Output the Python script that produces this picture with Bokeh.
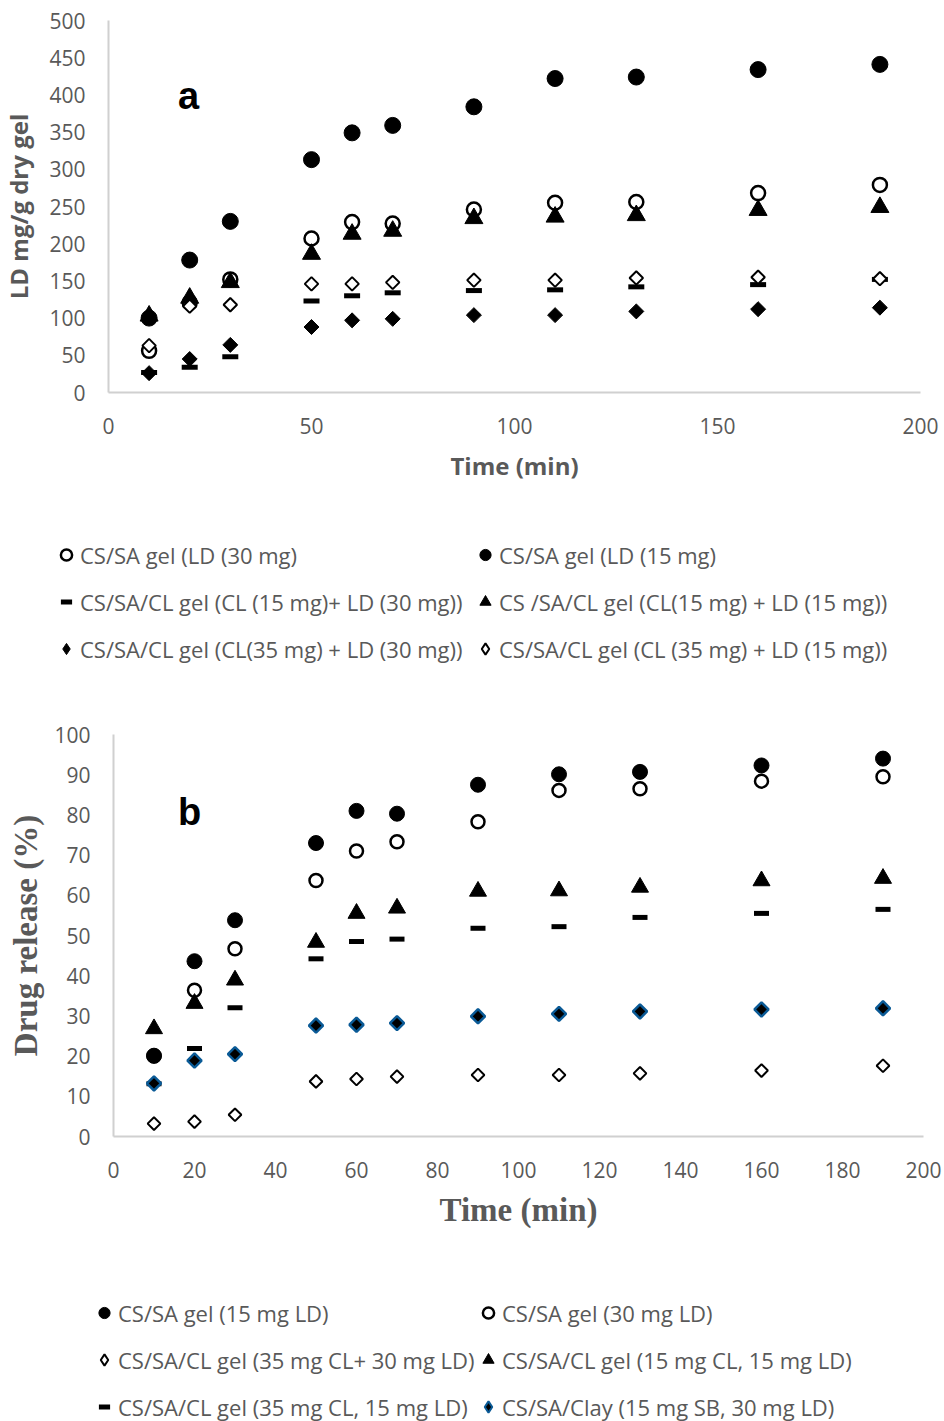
import numpy as np
from bokeh.plotting import figure
from bokeh.layouts import column
from bokeh.models import Range1d, Legend, LegendItem, Label, FixedTicker
from bokeh.embed import file_html
from bokeh.resources import INLINE

# ---------------- data ----------------
time_min = [10, 20, 30, 50, 60, 70, 90, 110, 130, 160, 190]

# panel a : LD mg/g dry gel
a_names = [
    "CS/SA gel (LD (30 mg)",
    "CS/SA gel (LD (15 mg)",
    "CS/SA/CL gel (CL (15 mg)+ LD (30 mg))",
    "CS /SA/CL gel (CL(15 mg) + LD (15 mg))",
    "CS/SA/CL gel (CL(35 mg) + LD (30 mg))",
    "CS/SA/CL gel (CL (35 mg) + LD (15 mg))",
]
a_ld30 = [56, 121, 152, 207, 229, 227, 246, 255, 256, 268, 279]
a_ld15 = [100, 178, 230, 313, 349, 359, 384, 422, 424, 434, 441]
a_cl15_ld30 = [27, 34, 48, 123, 130, 134, 137, 138, 142, 145, 152]
a_cl15_ld15 = [103, 127, 148, 186, 213, 217, 234, 236, 238, 245, 249]
a_cl35_ld30 = [26, 45, 64, 88, 97, 99, 104, 104, 109, 112, 114]
a_cl35_ld15 = [63, 116, 118, 146, 146, 148, 151, 151, 154, 155, 153]

# panel b : drug release (%)
b_names = [
    "CS/SA gel (15 mg LD)",
    "CS/SA gel (30 mg LD)",
    "CS/SA/CL gel (35 mg CL+ 30 mg LD)",
    "CS/SA/CL gel (15 mg CL, 15 mg LD)",
    "CS/SA/CL gel (35 mg CL, 15 mg LD)",
    "CS/SA/Clay (15 mg SB, 30 mg LD)",
]
b_ld15 = [20.1, 43.6, 53.8, 73.0, 81.0, 80.3, 87.5, 90.1, 90.7, 92.3, 94.0]
b_ld30 = [20.0, 36.4, 46.7, 63.7, 71.0, 73.3, 78.3, 86.1, 86.5, 88.4, 89.5]
b_cl35_ld30 = [3.2, 3.7, 5.4, 13.7, 14.3, 14.9, 15.3, 15.3, 15.7, 16.4, 17.6]
b_cl15_ld15 = [26.8, 33.1, 38.9, 48.3, 55.5, 56.8, 61.0, 61.1, 62.0, 63.6, 64.2]
b_cl35_ld15 = [13.1, 21.9, 32.0, 44.2, 48.5, 49.1, 51.8, 52.2, 54.5, 55.5, 56.5]
b_clay = [13.2, 18.9, 20.5, 27.6, 27.8, 28.2, 29.9, 30.5, 31.1, 31.6, 31.9]

a_yticks = list(range(0, 501, 50))
a_xticks = list(range(0, 201, 50))
b_yticks = list(range(0, 101, 10))
b_xticks = list(range(0, 201, 20))

# ---------------- styles ----------------
GRAY = "#595959"
AXIS = "#d0d0d0"
SANS = "Open Sans"
SERIF = "Liberation Serif"
BLUE = "#0a5a96"
D45 = np.pi / 4
W = 944

MK = {
    "fcircle": dict(marker="circle", fill_color="black", line_color="black", line_width=1),
    "ocircle": dict(marker="circle", fill_color="white", line_color="black", line_width=2.5),
    "dash": dict(marker="dash", fill_color="black", line_color="black", line_width=5),
    "tri": dict(marker="triangle", fill_color="black", line_color="black", line_width=1),
    "fdia": dict(marker="square", angle=D45, fill_color="black", line_color="black", line_width=1),
    "odia": dict(marker="square", angle=D45, fill_color="white", line_color="black", line_width=2),
    "bdia": dict(marker="square", angle=D45, fill_color="black", line_color=BLUE, line_width=2.5),
}
# legend swatches: Bokeh legends ignore marker angle, so diamond series get a
# same-data "diamond" glyph drawn underneath (hidden by the rotated square)
LEG = {
    "fdia": dict(marker="diamond", fill_color="black", line_color="black", line_width=1),
    "odia": dict(marker="diamond", fill_color="white", line_color="black", line_width=2),
    "bdia": dict(marker="diamond", fill_color="black", line_color=BLUE, line_width=2),
}


def panel(height, px_left, px_right, px_bottom, px_top, xmax, ymax, xt, yt, lab_font, lab_size):
    """Figure whose frame fills the canvas; axes are pinned at data 0 inside it."""
    xs = (px_right - px_left) / xmax
    ys = (px_bottom - px_top) / ymax
    xr = Range1d(-px_left / xs, xmax + (W - px_right) / xs)
    yr = Range1d(-(height - px_bottom) / ys, ymax + px_top / ys)
    p = figure(width=W, height=height, output_backend="svg", toolbar_location=None,
               x_range=xr, y_range=yr,
               min_border_left=0, min_border_right=0, min_border_top=0, min_border_bottom=0)
    p.outline_line_color = None
    p.xgrid.visible = False
    p.ygrid.visible = False
    p.background_fill_color = "white"
    p.border_fill_color = "white"
    p.xaxis.fixed_location = 0
    p.yaxis.fixed_location = 0
    p.xaxis.bounds = (0, xmax)
    p.yaxis.bounds = (0, ymax)
    for ax in (p.xaxis[0], p.yaxis[0]):
        ax.axis_line_color = AXIS
        ax.axis_line_width = 2
        ax.major_tick_line_color = None
        ax.minor_tick_line_color = None
        ax.major_tick_out = 0
        ax.major_tick_in = 0
        ax.minor_tick_out = 0
        ax.minor_tick_in = 0
        ax.major_label_text_font = SANS
        ax.major_label_text_font_size = "21px"
        ax.major_label_text_color = GRAY
        ax.axis_label_text_color = GRAY
        ax.axis_label_text_font = lab_font
        ax.axis_label_text_font_style = "bold"
        ax.axis_label_text_font_size = lab_size
    p.xaxis.ticker = FixedTicker(ticks=xt)
    p.yaxis.ticker = FixedTicker(ticks=yt)
    return p


def add_series(p, x, ys, keys, sizes):
    rs = {}
    for y, k, s in zip(ys, keys, sizes):
        if k in LEG:
            rs[k] = p.scatter(x, y, size=8, **LEG[k])
            p.scatter(x, y, size=s, **MK[k])
        else:
            rs[k] = p.scatter(x, y, size=s, **MK[k])
    return rs


def add_legend(p, names, rends, loc, row_h, spacing):
    lg = Legend(items=[LegendItem(label=n, renderers=[r]) for n, r in zip(names, rends)],
                location=loc, orientation="vertical",
                glyph_width=28, glyph_height=row_h, label_height=row_h,
                label_standoff=0, spacing=spacing, padding=0, margin=0,
                border_line_color=None, background_fill_alpha=0,
                label_text_font=SANS, label_text_font_size="22px", label_text_color=GRAY)
    p.add_layout(lg)


# ---------------- panel a ----------------
pa = panel(700, 108, 920, 392, 20, 200, 500, a_xticks, a_yticks, SANS, "24px")
pa.xaxis.axis_label = "Time (min)"
pa.yaxis.axis_label = "LD mg/g dry gel"
pa.xaxis.major_label_standoff = 25
pa.yaxis.major_label_standoff = 23
pa.xaxis.axis_label_standoff = 12
pa.yaxis.axis_label_standoff = 11

ra = add_series(pa, time_min,
                [a_ld30, a_ld15, a_cl15_ld30, a_cl15_ld15, a_cl35_ld30, a_cl35_ld15],
                ["ocircle", "fcircle", "dash", "tri", "fdia", "odia"],
                [14, 16, 16, 18, 10.6, 9.5])
add_legend(pa, [a_names[0], a_names[2], a_names[4]],
           [ra["ocircle"], ra["dash"], ra["fdia"]], (52, 29), 45, 2)
add_legend(pa, [a_names[1], a_names[3], a_names[5]],
           [ra["fcircle"], ra["tri"], ra["odia"]], (471, 29), 45, 2)
pa.add_layout(Label(x=19.7, y=399, text="a", text_font="Liberation Sans", text_font_style="bold",
                    text_font_size="38px", text_align="center", text_baseline="alphabetic",
                    text_color="black"))

# ---------------- panel b ----------------
pb = panel(721, 113, 923, 436, 34, 200, 100, b_xticks, b_yticks, SERIF, "33px")
pb.xaxis.axis_label = "Time (min)"
pb.yaxis.axis_label = "Drug release (%)"
pb.xaxis.major_label_standoff = 25
pb.yaxis.major_label_standoff = 23
pb.xaxis.axis_label_standoff = 11
pb.yaxis.axis_label_standoff = 7

rb = add_series(pb, time_min,
                [b_ld30, b_ld15, b_cl35_ld30, b_cl15_ld15, b_cl35_ld15, b_clay],
                ["ocircle", "fcircle", "odia", "tri", "dash", "bdia"],
                [13, 15, 9, 17, 15, 10])
add_legend(pb, [b_names[0], b_names[2], b_names[4]],
           [rb["fcircle"], rb["odia"], rb["dash"]], (90, -8), 45, 2)
add_legend(pb, [b_names[1], b_names[3], b_names[5]],
           [rb["ocircle"], rb["tri"], rb["bdia"]], (474, -8), 45, 2)
pb.add_layout(Label(x=18.8, y=80.8, text="b", text_font="Liberation Sans", text_font_style="bold",
                    text_font_size="38px", text_align="center", text_baseline="alphabetic",
                    text_color="black"))

layout = column(pa, pb, spacing=0)
open("out.html", "w").write(file_html(layout, INLINE))
